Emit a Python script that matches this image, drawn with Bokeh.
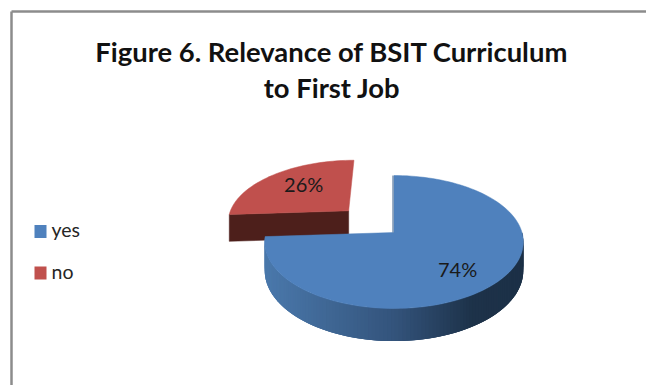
import math

from bokeh.core.properties import value
from bokeh.embed import file_html
from bokeh.models import ColumnDataSource, Range1d
from bokeh.plotting import figure
from bokeh.resources import INLINE

# Chart content
title_lines = ["Figure 6. Relevance of BSIT Curriculum", "to First Job"]
categories = ["yes", "no"]
shares = [74, 26]
top_colors = ["#4f81bd", "#c0504d"]
FONT = "Lato"

# Camera model of the tilted pie, expressed in canvas pixels
CX, CY = 393.5, 232
RX, RY = 128, 65.1
PERSPECTIVE = 1 / 7
DEPTH = 28
EXPLODE = 0.51
EXPLODED_RADIUS = 0.97


def project(u, v, z=0.0):
    """Map a point of the pie's plane (radius 1) to the canvas."""
    s = 1 / (1 + PERSPECTIVE * v)
    return CX + RX * u * s, CY - RY * v * s + DEPTH * z * s


def mix(a, b, t):
    ca = [int(a[i:i + 2], 16) for i in (1, 3, 5)]
    cb = [int(b[i:i + 2], 16) for i in (1, 3, 5)]
    return "#%02x%02x%02x" % tuple(round(x + (y - x) * t) for x, y in zip(ca, cb))


def wall_shade(t):
    """Side-wall colour for a horizontal position t between 0 and 1."""
    stops = [(0.0, "#4a78ab"), (0.5, "#33537b"), (0.8, "#1d3249"), (1.0, "#1c3047")]
    for (t0, c0), (t1, c1) in zip(stops[:-1], stops[1:]):
        if t <= t1:
            return mix(c0, c1, max(0.0, (t - t0) / (t1 - t0)))
    return stops[-1][1]


def arc_angles(start, end, steps):
    return [math.radians(start + (end - start) * i / steps) for i in range(steps + 1)]


total = sum(shares)
split = 360 * shares[0] / total
mid_no = math.radians((split + 360) / 2)
off_u, off_v = EXPLODE * math.sin(mid_no), EXPLODE * math.cos(mid_no)

p = figure(
    width=646, height=385, output_backend="svg", toolbar_location=None,
    x_range=Range1d(0, 646), y_range=Range1d(385, 0),
    x_axis_type=None, y_axis_type=None, min_border=0,
    background_fill_color="white", border_fill_color="white",
    outline_line_color=None,
)
p.grid.visible = False

# Frame of the chart area: only its top and left edges are in view
p.line([11, 11], [11, 385], line_color="#8c8c8c", line_width=2.5)
p.line([11, 646], [11, 11], line_color="#8c8c8c", line_width=2.5)

# Exploded slice: cut face first, then its top
rim_no = [(off_u + EXPLODED_RADIUS * math.sin(a), off_v + EXPLODED_RADIUS * math.cos(a))
          for a in arc_angles(split, 360, 40)]
apex_no = (off_u, off_v)
face_pts = [project(*rim_no[0]), project(*apex_no), project(*apex_no, 1), project(*rim_no[0], 1)]
p.patch([q[0] for q in face_pts], [q[1] for q in face_pts],
        fill_color="#4d1f1b", line_color="#4d1f1b", line_width=0.5)
top_no = [project(*apex_no)] + [project(*q) for q in rim_no]
p.patch([q[0] for q in top_no], [q[1] for q in top_no],
        fill_color=top_colors[1], line_color=top_colors[1], line_width=0.5)

# Outer wall of the large slice: overlapping strips painted from left to right
wall = arc_angles(split, 90, 120)
xs, ys, cols = [], [], []
for i, a0 in enumerate(wall[:-1]):
    a1 = wall[min(i + 3, len(wall) - 1)]
    u0, v0, u1, v1 = math.sin(a0), math.cos(a0), math.sin(a1), math.cos(a1)
    quad = [project(u0, v0), project(u1, v1), project(u1, v1, 1), project(u0, v0, 1)]
    xs.append([q[0] for q in quad])
    ys.append([q[1] for q in quad])
    cols.append(wall_shade((quad[0][0] - (CX - RX)) / (2 * RX)))
wall_src = ColumnDataSource(dict(xs=xs, ys=ys, color=cols))
p.patches("xs", "ys", source=wall_src, fill_color="color", line_color=None)

# Top of the large slice
top_yes = [project(0, 0)] + [project(math.sin(a), math.cos(a)) for a in arc_angles(0, split, 120)]
p.patch([q[0] for q in top_yes], [q[1] for q in top_yes],
        fill_color=top_colors[0], line_color=top_colors[0], line_width=0.5)
edge = [project(0, 0), project(0, 1)]
p.line([q[0] - 1 for q in edge], [q[1] for q in edge], line_color="#3a5f8a", line_width=1)

# Percentage labels
label_pos = [project(0.46, -0.52), project(off_u - 0.417, off_v + 0.48)]
p.text(x=[q[0] for q in label_pos], y=[q[1] for q in label_pos],
       text=[f"{v}%" for v in shares], text_font=value(FONT), text_font_size="20px",
       text_color="#1a1a1a", text_align="center", text_baseline="middle")

# Two-line heading
p.text(x=[331.5, 331.5], y=[51, 87], text=title_lines, text_font=value(FONT),
       text_font_size="27.4px", text_font_style="bold", text_color="#111111",
       text_align="center", text_baseline="middle")

# Legend keys and names
legend_y = [231, 272.5]
p.rect(x=[40, 40], y=legend_y, width=12, height=13, fill_color=top_colors, line_color=None)
p.text(x=[51, 51], y=[y - 2 for y in legend_y], text=categories, text_font=value(FONT),
       text_font_size="19.5px", text_color="#262626", text_align="left", text_baseline="middle")

open("out.html", "w").write(file_html(p, INLINE))
